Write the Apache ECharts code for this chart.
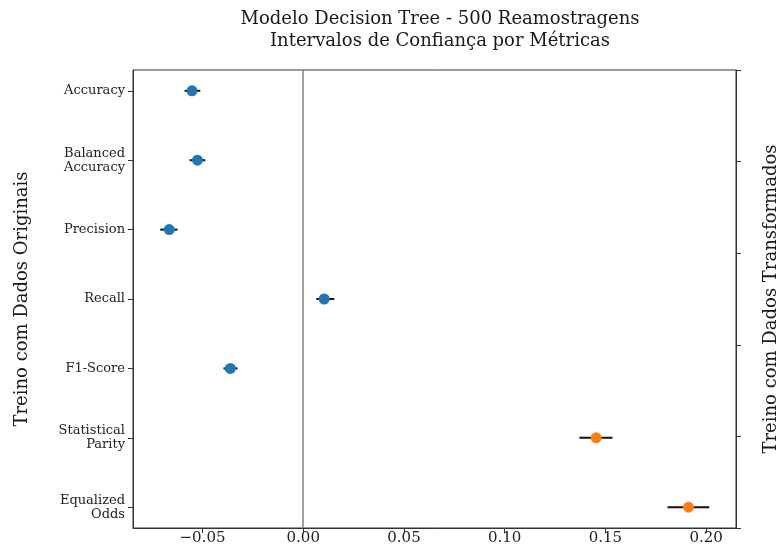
<!DOCTYPE html>
<html>
<head>
<meta charset="utf-8">
<style>
  html, body { margin: 0; padding: 0; background: #ffffff; }
  #chart { width: 776px; height: 548px; }
</style>
<script src="https://cdn.jsdelivr.net/npm/echarts@6/dist/echarts.min.js"></script>
</head>
<body>
<div id="chart"></div>
<script>
// Metrics, top to bottom
const metrics = ['Accuracy', 'Balanced\nAccuracy', 'Precision', 'Recall', 'F1-Score', 'Statistical\nParity', 'Equalized\nOdds'];
// Point estimate of the difference for each metric
const centers = [-0.0552, -0.0525, -0.0665, 0.0104, -0.0362, 0.1454, 0.1912];
// Confidence interval bounds
const lower = [-0.0589, -0.0564, -0.0710, 0.0065, -0.0396, 0.1371, 0.1808];
const upper = [-0.0511, -0.0486, -0.0624, 0.0154, -0.0326, 0.1535, 0.2015];
// Group of each metric: 0 = performance, 1 = fairness
const groups = [0, 0, 0, 0, 0, 1, 1];
const groupColors = ['#1f77b4', '#ff7f0e'];
// X axis tick values
const xTicks = [-0.05, 0.00, 0.05, 0.10, 0.15, 0.20];
const rightTicks = [0, 0.2, 0.4, 0.6, 0.8, 1.0];

const FONT = 'DejaVu Serif';
const idx = metrics.map((_, i) => i);

const chart = echarts.init(document.getElementById('chart'), null, { renderer: 'canvas' });

chart.setOption({
  animation: false,
  backgroundColor: '#ffffff',
  title: {
    text: 'Modelo Decision Tree - 500 Reamostragens\nIntervalos de Confiança por Métricas',
    left: 435,
    textAlign: 'center',
    top: 3,
    textStyle: { fontFamily: FONT, fontSize: 18, fontWeight: 'normal', color: '#1a1a1a', lineHeight: 22 }
  },
  grid: {
    left: 133, right: 40, top: 70, bottom: 20,
    outerBoundsMode: 'none',
    containLabel: false,
    show: true, borderColor: '#333333', borderWidth: 1, backgroundColor: '#ffffff'
  },
  xAxis: {
    type: 'value',
    min: -0.0845,
    max: 0.2148,
    splitLine: { show: false },
    axisLine: { show: true, onZero: false, lineStyle: { color: '#333333', width: 1 } },
    axisTick: { show: true, length: 5, customValues: xTicks, lineStyle: { color: '#333333' } },
    axisLabel: {
      customValues: xTicks,
      margin: 3,
      fontFamily: FONT, fontSize: 15, color: '#222222',
      formatter: v => (v < 0 ? '\u2212' : '') + Math.abs(v).toFixed(2)
    }
  },
  yAxis: [
    {
      type: 'value',
      min: -0.3,
      max: 6.3,
      inverse: true,
      splitLine: { show: false },
      axisLine: { show: true, onZero: false, lineStyle: { color: '#333333', width: 1 } },
      axisTick: { show: true, length: 5, customValues: idx, lineStyle: { color: '#333333' } },
      axisLabel: {
        customValues: idx,
        margin: 8,
        fontFamily: FONT, fontSize: 13, color: '#222222', lineHeight: 14, align: 'right',
        formatter: v => metrics[Math.round(v)]
      },
      name: 'Treino com Dados Originais',
      nameLocation: 'middle',
      nameRotate: 90,
      nameGap: 102,
      nameTextStyle: { fontFamily: FONT, fontSize: 18, color: '#1a1a1a' }
    },
    {
      type: 'value',
      position: 'right',
      min: 0,
      max: 1,
      inverse: true,
      splitLine: { show: false },
      axisLine: { show: true, onZero: false, lineStyle: { color: '#333333', width: 1 } },
      axisTick: { show: true, length: 5, customValues: rightTicks, lineStyle: { color: '#333333' } },
      axisLabel: { show: false },
      name: 'Treino com Dados Transformados',
      nameLocation: 'middle',
      nameRotate: 90,
      nameGap: 26,
      nameTextStyle: { fontFamily: FONT, fontSize: 18, color: '#1a1a1a' }
    }
  ],
  series: [
    {
      // Reference line at zero
      type: 'line',
      data: [],
      silent: true,
      markLine: {
        silent: true,
        symbol: 'none',
        label: { show: false },
        lineStyle: { color: '#808080', width: 1.5, type: 'solid' },
        data: [{ xAxis: 0 }]
      }
    },
    {
      // Confidence interval bars
      type: 'custom',
      silent: true,
      data: idx.map(i => [lower[i], upper[i], i]),
      encode: { x: [0, 1], y: 2 },
      renderItem: (params, api) => {
        const a = api.coord([api.value(0), api.value(2)]);
        const b = api.coord([api.value(1), api.value(2)]);
        return {
          type: 'line',
          shape: { x1: a[0], y1: a[1], x2: b[0], y2: b[1] },
          style: { stroke: '#111111', lineWidth: 2 }
        };
      },
      z: 2
    },
    {
      // Point estimates
      type: 'scatter',
      symbolSize: 11,
      data: idx.map(i => ({
        value: [centers[i], i],
        itemStyle: { color: groupColors[groups[i]], opacity: 1 }
      })),
      z: 3
    }
  ]
});
</script>
</body>
</html>
